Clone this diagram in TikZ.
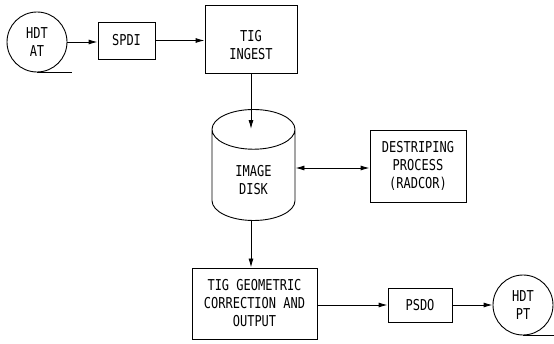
\documentclass[tikz,border=0pt]{standalone}
\usepackage{fontspec}
\newfontfamily\diagfont[FakeStretch=0.8]{DejaVu Sans Mono}
\usetikzlibrary{arrows.meta,shapes.geometric,calc}

\begin{document}
\begin{tikzpicture}[x=1pt, y=-1pt, line width=0.9pt,
    font=\diagfont\fontsize{15}{18}\selectfont,
    box/.style={draw, rectangle, align=center, inner sep=0pt},
    tape/.style={draw, circle, align=center, minimum size=60pt, inner sep=0pt},
    flow/.style={-{Latex[length=9pt,width=5pt]}}]

  \useasboundingbox (0,0) rectangle (554,344);

  \node[tape] (at) at (37,42) {HDT\\AT};
  \node[box, minimum width=57pt, minimum height=37pt] (spdi) at (126.5,40.5) {SPDI};
  \node[box, minimum width=92pt, minimum height=68pt] (ingest) at (251,39)
    {\raisebox{-8pt}[\height][\depth]{\begin{tabular}{@{}c@{}}TIG\\INGEST\end{tabular}}};
  \node[draw, cylinder, shape border rotate=90, aspect=1.1, minimum width=83pt,
    minimum height=111pt, align=center, inner sep=0pt, anchor=shape center]
    (disk) at (253.5,165)
    {\raisebox{-7pt}[\height][\depth]{\begin{tabular}{@{}c@{}}IMAGE\\DISK\end{tabular}}};
  \node[box, minimum width=96pt, minimum height=72pt] (destripe) at (418,166)
    {DESTRIPING\\PROCESS\\(RADCOR)};
  \node[box, minimum width=125pt, minimum height=71pt] (geo) at (254.5,303.5)
    {TIG GEOMETRIC\\CORRECTION AND\\OUTPUT};
  \node[box, minimum width=64pt, minimum height=34pt] (psdo) at (420,305) {PSDO};
  \node[tape] (pt) at (523,305) {HDT\\PT};

  % tape ends
  \draw (at.south) -- ++(35,0);
  \draw (pt.south) -- ++(31,0);

  \draw[flow] (at.east) -- (at.east -| spdi.west);
  \draw[flow] (spdi.east) -- (spdi.east -| ingest.west);
  \draw[flow] (ingest.south) -- ($(ingest.south |- disk.top)+(0,20)$);
  \draw[{Latex[length=9pt,width=5pt]}-{Latex[length=9pt,width=5pt]}]
    ($(disk.shape center -| disk.east)+(0,3)$) -- ($(disk.shape center -| destripe.west)+(0,3)$);
  \draw[flow] (disk.bottom -| ingest.south) -- (ingest.south |- geo.north);
  \draw[flow] (geo.east |- psdo.west) -- (psdo.west);
  \draw[flow] (psdo) -- (pt);

\end{tikzpicture}
\end{document}
